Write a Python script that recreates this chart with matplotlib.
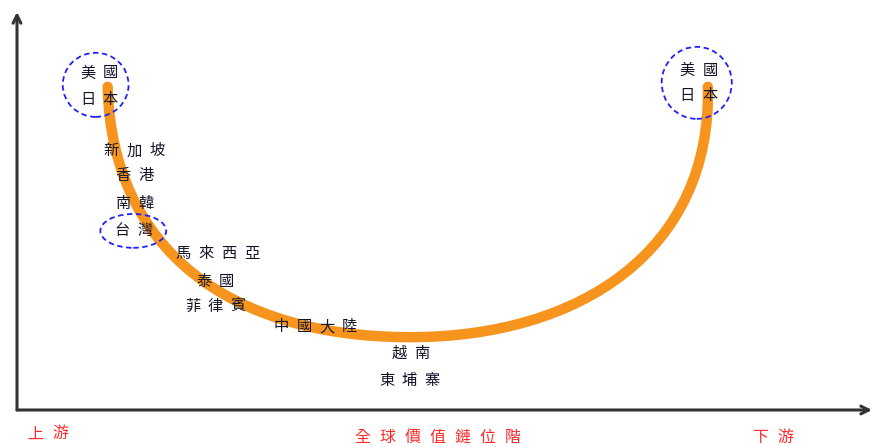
import matplotlib
matplotlib.use('Agg')
import matplotlib.pyplot as plt
from matplotlib.patches import Ellipse, PathPatch
from matplotlib.path import Path
from matplotlib.transforms import offset_copy

plt.rcParams['font.family'] = ['Noto Sans CJK TC', 'DejaVu Sans']

# smile curve as two bezier pieces (x: position in chain, y: value added), 0..100 scale
curve_x = [10.6, 11.1, 24.9, 46.0, 65.9, 81.3, 80.8]
curve_y = [81.2, 40.2, 18.3, 18.3, 18.3, 40.2, 81.2]

# country labels and where they sit
labels = ['美國', '日本', '新加坡', '香港', '南韓', '台灣', '馬來西亞', '泰國',
          '菲律賓', '中國大陸', '越南', '東埔寨', '美國', '日本']
label_x = [9.6, 9.6, 13.7, 13.7, 13.7, 13.6, 23.4, 23.2, 23.2, 34.9, 46.0, 45.9,
           79.7, 79.7]
label_y = [84.7, 77.9, 65.1, 58.8, 52.0, 45.2, 39.4, 32.4, 26.1, 20.9, 14.3, 7.5,
           85.4, 79.1]

# dashed highlight rings: center x, center y, width, height
ring_x = [9.2, 13.6, 79.5]
ring_y = [81.7, 45.0, 82.2]
ring_w = [7.7, 7.7, 8.2]
ring_h = [16.1, 8.5, 18.1]

# red captions under the x axis
axis_text = ['上游', '全球價值鏈位階', '下游']
axis_text_x = [3.6, 49.2, 88.4]
axis_text_y = [-6.0, -6.8, -6.8]


def spaced(ax, x, y, s, pitch, **kw):
    n = len(s)
    for i, ch in enumerate(s):
        tr = offset_copy(ax.transData, fig=ax.figure, x=(i - (n - 1) / 2) * pitch,
                         y=0, units='points')
        ax.text(x, y, ch, transform=tr, ha='center', va='center', clip_on=False, **kw)


fig = plt.figure(figsize=(8.74, 4.47), dpi=100)
ax = fig.add_axes([17 / 874, 37 / 447, 855 / 874, 398 / 447])
ax.set_xlim(0, 100)
ax.set_ylim(0, 100)
ax.axis('off')

# axes with arrow heads
arrow = dict(arrowstyle='->', lw=2.2, color='#333333', mutation_scale=14,
             shrinkA=0, shrinkB=0)
ax.annotate('', xy=(0, 100), xytext=(0, 0), arrowprops=arrow, annotation_clip=False)
ax.annotate('', xy=(100, 0), xytext=(0, 0), arrowprops=arrow, annotation_clip=False)

codes = [Path.MOVETO] + [Path.CURVE4] * 6
smile = Path(list(zip(curve_x, curve_y)), codes)
ax.add_patch(PathPatch(smile, fill=False, edgecolor='#F7941D', lw=7.5,
                       capstyle='round', joinstyle='round', zorder=2))

for cx, cy, w, h in zip(ring_x, ring_y, ring_w, ring_h):
    ax.add_patch(Ellipse((cx, cy), w, h, fill=False, edgecolor='#1f1fff',
                         lw=1.3, ls=(0, (3, 2)), zorder=3))

for s, x, y in zip(labels, label_x, label_y):
    spaced(ax, x, y, s, 16.5, color='#15152a', fontsize=11, zorder=4)

for s, x, y in zip(axis_text, axis_text_x, axis_text_y):
    spaced(ax, x, y, s, 18, color='#ff2b2b', fontsize=11.5)

fig.savefig('out.png', dpi=100)
